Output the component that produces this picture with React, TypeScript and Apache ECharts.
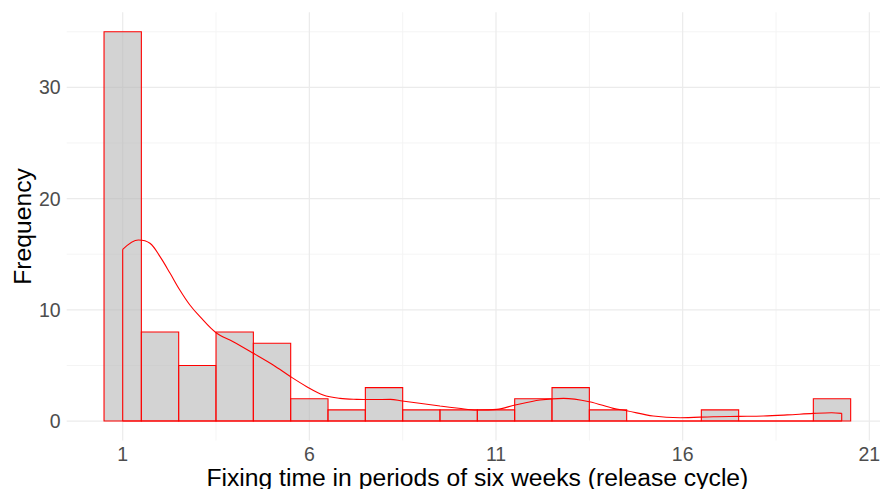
import { useEffect, useRef } from "react";
import * as echarts from "echarts";

// Histogram bins (centre of each one-period bin) and their frequencies
const binCenters = [1, 2, 3, 4, 5, 6, 7, 8, 9, 10, 11, 12, 13, 14, 15, 16, 17, 18, 19, 20];
const counts = [35, 8, 5, 8, 7, 2, 1, 3, 1, 1, 1, 2, 3, 1, 0, 0, 1, 0, 0, 2];
const binWidth = 1;

// Density curve (scaled to counts)
const densityX = [1.0, 1.42, 1.73, 2.0, 2.27, 2.53, 2.8, 3.07, 3.5, 3.96, 4.5, 5.03, 5.5, 5.93, 6.37, 6.82, 7.27, 7.7, 8.17, 8.49, 9.0, 9.5, 10.0, 10.48, 11.02, 11.51, 12.18, 12.81, 13.5, 14.14, 14.5, 15.21, 15.93, 16.82, 17.5, 18.16, 18.8, 19.5, 19.99, 20.26];
const densityY = [15.44, 16.28, 15.98, 14.78, 13.28, 11.78, 10.43, 9.38, 7.94, 7.13, 6.09, 5.04, 3.98, 3.09, 2.34, 2.04, 1.95, 1.93, 1.95, 1.8, 1.58, 1.35, 1.15, 0.99, 1.05, 1.44, 1.89, 2.04, 1.74, 1.14, 0.93, 0.45, 0.3, 0.39, 0.42, 0.45, 0.55, 0.69, 0.75, 0.69];

// Axis ticks (major labelled, minor only gridlines)
const xTicks = [1, 6, 11, 16, 21];
const xMinorTicks = [3.5, 8.5, 13.5, 18.5];
const yTicks = [0, 10, 20, 30];
const yMinorTicks = [5, 15, 25, 35];

const xTitle = "Fixing time in periods of six weeks (release cycle)";
const yTitle = "Frequency";

const FONT = "'Liberation Sans', Arial, Helvetica, sans-serif";

export default function App() {
  const ref = useRef<HTMLDivElement>(null);

  useEffect(() => {
    if (!ref.current) return;
    const chart = echarts.init(ref.current, null, { renderer: "svg" });

    const xMin = binCenters[0] - binWidth * 1.5;
    const xMax = binCenters[binCenters.length - 1] + binWidth * 1.5;
    const yMax = Math.max(...counts);
    const yPad = yMax * 0.05;
    const yMin = -yPad;
    const yTop = yMax + yPad;

    const gridColor = "#ebebeb";
    const minorColor = "#f3f3f3";

    const gridLines: any[] = [
      ...xMinorTicks.map((v) => [0, v, 0]),
      ...yMinorTicks.map((v) => [1, v, 0]),
      ...xTicks.map((v) => [0, v, 1]),
      ...yTicks.map((v) => [1, v, 1]),
    ];

    const barData = binCenters.map((c, i) => [c, counts[i]]);
    const curve = densityX.map((x, i) => [x, densityY[i]]);
    const n = densityX.length;
    const edges = [
      [densityX[n - 1], densityY[n - 1]],
      [densityX[n - 1], 0],
      [densityX[0], 0],
      [densityX[0], densityY[0]],
    ];

    chart.setOption({
      animation: false,
      backgroundColor: "#ffffff",
      grid: {
        left: 66.7,
        width: 821.3,
        top: 12.3,
        height: 428.2,
        containLabel: false,
        outerBoundsMode: "none",
      },
      xAxis: {
        type: "value",
        min: xMin,
        max: xMax,
        name: xTitle,
        nameLocation: "middle",
        nameGap: 24,
        nameMoveOverlap: false,
        nameTextStyle: { fontFamily: FONT, fontSize: 24.7, color: "#000000" },
        axisLine: { show: false },
        axisTick: { show: false },
        splitLine: { show: false },
        axisLabel: {
          margin: 3,
          fontFamily: FONT,
          fontSize: 19.5,
          color: "#4d4d4d",
          customValues: xTicks,
          formatter: (v: number) => String(v),
        },
      },
      yAxis: {
        type: "value",
        min: yMin,
        max: yTop,
        name: yTitle,
        nameLocation: "middle",
        nameGap: 32,
        nameMoveOverlap: false,
        nameRotate: 90,
        nameTextStyle: { fontFamily: FONT, fontSize: 24.7, color: "#000000" },
        axisLine: { show: false },
        axisTick: { show: false },
        splitLine: { show: false },
        axisLabel: {
          margin: 6,
          fontFamily: FONT,
          fontSize: 19.5,
          color: "#4d4d4d",
          customValues: yTicks,
          formatter: (v: number) => String(v),
        },
      },
      series: [
        {
          type: "custom",
          data: gridLines,
          silent: true,
          z: 1,
          renderItem: (params: any, api: any) => {
            const dir = api.value(0);
            const v = api.value(1);
            const major = api.value(2) === 1;
            const a = dir === 0 ? api.coord([v, yMin]) : api.coord([xMin, v]);
            const b = dir === 0 ? api.coord([v, yTop]) : api.coord([xMax, v]);
            return {
              type: "line",
              shape: { x1: a[0], y1: a[1], x2: b[0], y2: b[1] },
              style: { stroke: major ? gridColor : minorColor, lineWidth: major ? 1.2 : 0.9 },
            };
          },
        },
        {
          type: "custom",
          data: barData,
          z: 2,
          renderItem: (params: any, api: any) => {
            const x = api.value(0);
            const y = api.value(1);
            const p0 = api.coord([x - binWidth / 2, y]);
            const p1 = api.coord([x + binWidth / 2, 0]);
            return {
              type: "rect",
              shape: { x: p0[0], y: p0[1], width: p1[0] - p0[0], height: p1[1] - p0[1] },
              style: { fill: "rgba(182,182,182,0.6)", stroke: "#ff0000", lineWidth: 1.1 },
            };
          },
        },
        {
          type: "line",
          data: curve,
          smooth: 0.35,
          symbol: "none",
          lineStyle: { color: "#ff0000", width: 1.1 },
          z: 3,
        },
        {
          type: "line",
          data: edges,
          smooth: false,
          symbol: "none",
          lineStyle: { color: "#ff0000", width: 1.1 },
          z: 3,
        },
      ],
    });

    return () => chart.dispose();
  }, []);

  return (
    <div
      ref={ref}
      style={{ position: "fixed", left: 0, top: 0, width: 880, height: 489, background: "#fff" }}
    />
  );
}
